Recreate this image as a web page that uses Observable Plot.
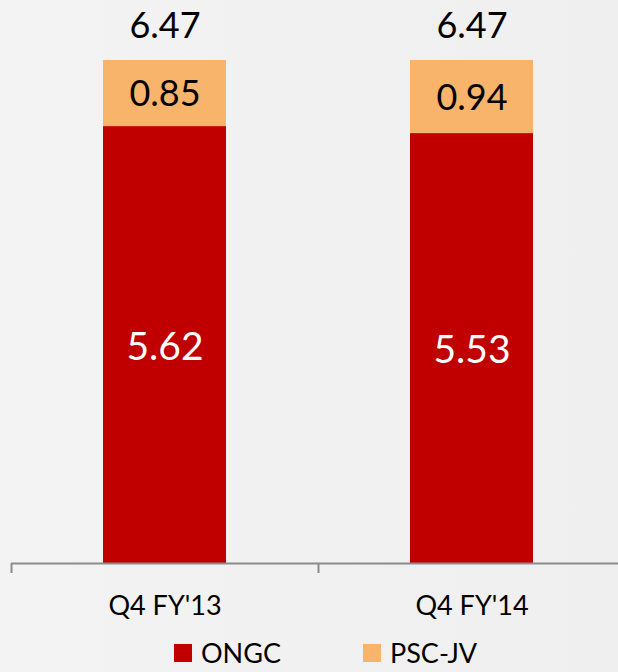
<!DOCTYPE html>
<html>
<head>
<meta charset="utf-8">
<script src="https://cdn.jsdelivr.net/npm/d3@7"></script>
<script src="https://cdn.jsdelivr.net/npm/@observablehq/plot@0.6"></script>
<style>
  html, body { margin: 0; padding: 0; background: #f2f2f2; overflow: hidden; width: 618px; height: 672px; }
  #chart { position: relative; width: 618px; height: 672px; background: linear-gradient(90deg, #f3f3f3, #efefef); font-family: Lato, sans-serif; }
  #chart svg { display: block; background: transparent; }
  .legend { position: absolute; left: 0; top: 632px; width: 618px; height: 40px; }
  .legend .item { position: absolute; top: 0; height: 40px; display: flex; align-items: center; font-size: 27px; color: #000; }
  .legend .sw { width: 18px; height: 18px; margin-right: 9px; margin-top: 2px; }
</style>
</head>
<body>
<div id="chart"></div>
<script>
const quarters = ["Q4 FY'13", "Q4 FY'14"];
const seriesNames = ["ONGC", "PSC-JV"];
const ongcValues = [5.62, 5.53];
const pscValues = [0.85, 0.94];
const totalValues = [6.47, 6.47];
const seriesColors = ["#C00000", "#F9B46B"];

const rows = [];
quarters.forEach((q, i) => {
  rows.push({quarter: q, series: "ONGC", value: ongcValues[i]});
  rows.push({quarter: q, series: "PSC-JV", value: pscValues[i]});
});
const totals = quarters.map((q, i) => ({quarter: q, total: totalValues[i]}));
const fmt = v => v.toFixed(2);

const plot = Plot.plot({
  width: 618,
  height: 632,
  marginLeft: 11,
  marginRight: -7,
  marginTop: 60,
  marginBottom: 69,
  style: {background: "transparent", fontFamily: "Lato, sans-serif", overflow: "hidden"},
  x: {domain: quarters, paddingInner: 0.6, paddingOuter: 0.3, label: null},
  y: {domain: [0, 6.47], axis: null},
  color: {domain: seriesNames, range: seriesColors},
  marks: [
    Plot.barY(rows, Plot.stackY({x: "quarter", y: "value", fill: "series", z: "series"})),
    Plot.text(rows, Plot.stackY({x: "quarter", y: "value", z: "series",
      text: d => d.series === "ONGC" ? fmt(d.value) : null,
      fill: "white", fontSize: 39, dy: 2})),
    Plot.text(rows, Plot.stackY({x: "quarter", y: "value", z: "series",
      text: d => d.series === "PSC-JV" ? fmt(d.value) : null,
      fill: "black", fontSize: 36, dy: 1})),
    Plot.text(totals, {x: "quarter", y: "total", text: d => fmt(d.total), fill: "black", fontSize: 36, dy: -34}),
    Plot.ruleY([0], {stroke: "#8c8c8c", strokeWidth: 2}),
    Plot.ruleX(quarters, {x: d => d, dx: -153.5, y1: 0, y2: 0, insetBottom: -10, stroke: "#8c8c8c", strokeWidth: 2}),
    Plot.axisX({tickSize: 0, tickPadding: 32, fontSize: 27, fill: "black", label: null})
  ]
});

const chart = document.getElementById("chart");
chart.appendChild(plot);

const legend = document.createElement("div");
legend.className = "legend";
const legendLeft = [174, 363];
seriesNames.forEach((name, i) => {
  const item = document.createElement("div");
  item.className = "item";
  item.style.left = legendLeft[i] + "px";
  const sw = document.createElement("span");
  sw.className = "sw";
  sw.style.background = seriesColors[i];
  const label = document.createElement("span");
  label.textContent = name;
  item.appendChild(sw);
  item.appendChild(label);
  legend.appendChild(item);
});
chart.appendChild(legend);
</script>
</body>
</html>
